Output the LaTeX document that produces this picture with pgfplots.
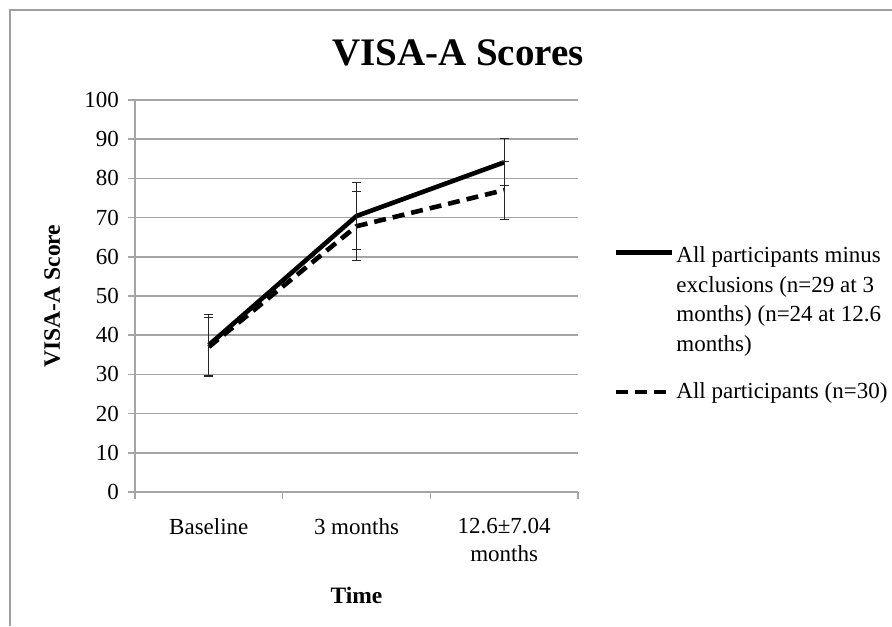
\documentclass[border=0pt]{standalone}
\usepackage{fontspec}
\setmainfont{Liberation Serif}
\usepackage{pgfplots}
\pgfplotsset{compat=1.18}
\definecolor{gridgray}{RGB}{165,165,165}
\definecolor{framegray}{RGB}{160,160,160}
\begin{document}
\begin{tikzpicture}
\useasboundingbox (-67.5pt,-67pt) rectangle (378.5pt,246pt);
\draw[framegray, line width=1pt] (-62.5pt,-67pt) -- (-62.5pt,241pt) -- (378.5pt,241pt);
\begin{axis}[
  scale only axis,
  width=221.5pt, height=196pt,
  at={(0pt,0pt)}, anchor=south west,
  xmin=-0.5, xmax=2.5, ymin=0, ymax=100,
  axis lines*=left,
  axis line style={gridgray, line width=0.8pt, -},
  ymajorgrids,
  grid style={gridgray, line width=0.8pt},
  ytick={0,10,...,100},
  xtick={0,1,2},
  xticklabels={Baseline, 3 months, {12.6±7.04\\months}},
  minor xtick={-0.5,0.5,1.5,2.5},
  major x tick style={draw=none},
  tick align=outside,
  major tick length=3.5pt, minor tick length=3.5pt,
  tick style={gridgray, line width=0.8pt},
  /pgf/number format/assume math mode=true,
  ticklabel style={font=\fontsize{11.5}{14}\selectfont},
  xticklabel style={align=center, yshift=-6pt},
  yticklabel style={xshift=-1pt},
  title={\textbf{VISA-A Scores}},
  title style={font=\fontsize{19.5}{22}\selectfont, at={(axis description cs:0.729,1)}, anchor=center, yshift=17.5pt},
  ylabel={\textbf{VISA-A Score}},
  ylabel style={font=\fontsize{11.75}{13}\selectfont, at={(axis description cs:-0.187,0.5)}, anchor=center},
  xlabel={\textbf{Time}},
  xlabel style={font=\fontsize{11.75}{13}\selectfont, at={(axis description cs:0.5,-0.263)}, anchor=center},
  legend style={at={(axis description cs:1.08,0.632)}, anchor=north west, draw=none, fill=none,
    inner sep=0pt, row sep=12pt, font=\fontsize{11.5}{14}\selectfont,
    nodes={align=left, font=\fontsize{11.5}{14}\selectfont, inner sep=1pt}},
  legend cell align=left,
  legend image code/.code={\draw[#1] (0pt,0pt) -- (28pt,0pt);},
]
\addplot[black, line width=2.3pt, mark=none,
  legend image code/.code={\draw[##1] (0pt,24pt) -- (28pt,24pt); \path (0pt,-24pt);},
  error bars/.cd, y dir=both, y explicit, error mark=-,
  error bar style={black!85, line width=0.6pt, solid},
  error mark options={black!85, line width=0.6pt, mark size=2.3pt, solid, rotate=90}]
  coordinates {(0,37.5) +- (0,7.7) (1,70.4) +- (0,8.6) (2,84.1) +- (0,6.0)};
\addlegendentry{All participants minus\\[0.8pt]exclusions (n=29 at 3\\[0.8pt]months) (n=24 at 12.6\\[0.8pt]months)}
\addplot[black, line width=2.3pt, mark=none, dash pattern=on 6pt off 3.5pt,
  error bars/.cd, y dir=both, y explicit, error mark=-,
  error bar style={black!85, line width=0.6pt, solid},
  error mark options={black!85, line width=0.6pt, mark size=2.3pt, solid, rotate=90}]
  coordinates {(0,37.0) +- (0,7.5) (1,67.8) +- (0,8.8) (2,77.0) +- (0,7.4)};
\addlegendentry{All participants (n=30)}
\end{axis}
\end{tikzpicture}
\end{document}
